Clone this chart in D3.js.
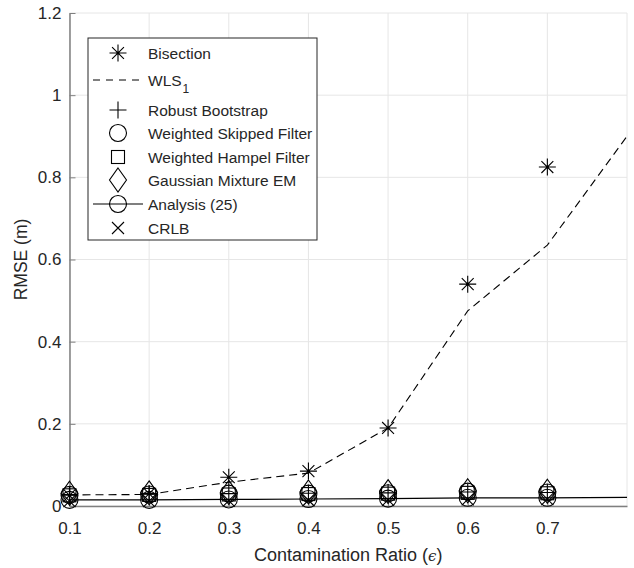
<!DOCTYPE html>
<html><head><meta charset="utf-8">
<script src="https://cdn.jsdelivr.net/npm/d3@7/dist/d3.min.js"></script>
<style>body{margin:0;background:#fff}svg{display:block}text{font-family:"Liberation Sans",Arial,sans-serif;fill:#262626}</style>
</head><body><svg id="c" width="634" height="568"></svg>
<script>
const ratios = [0.1,0.2,0.3,0.4,0.5,0.6,0.7];
const wlsX = [0.1,0.2,0.3,0.4,0.5,0.6,0.7,0.8];
const wls = [0.027,0.028,0.058,0.08,0.19,0.475,0.635,0.9];
const bisection = [0.026,0.030,0.070,0.085,0.190,0.540,0.825];
const robustBootstrap = [0.028,0.029,0.030,0.031,0.032,0.034,0.033];
const weightedSkipped = [0.027,0.028,0.030,0.030,0.031,0.035,0.033];
const weightedHampel = [0.026,0.027,0.028,0.029,0.030,0.032,0.031];
const gaussianEM = [0.031,0.032,0.033,0.034,0.035,0.037,0.036];
const analysisX = [0.1,0.2,0.3,0.4,0.5,0.6,0.7,0.8];
const analysis = [0.015,0.015,0.016,0.017,0.018,0.020,0.020,0.021];
const crlb = [0.012,0.012,0.013,0.014,0.015,0.016,0.017];
const xTicks = [0.1,0.2,0.3,0.4,0.5,0.6,0.7];
const yTicks = [0,0.2,0.4,0.6,0.8,1,1.2];

const svg = d3.select("#c");
const L=69.5, R=627, T=13, B=506;
const x = d3.scaleLinear().domain([0.1,0.8]).range([L,R]);
const y = d3.scaleLinear().domain([0,1.2]).range([B,T]);

// grid
const g = svg.append("g");
g.selectAll(".gx").data(xTicks.concat([0.8])).join("line")
 .attr("x1",d=>x(d)).attr("x2",d=>x(d)).attr("y1",T).attr("y2",B)
 .attr("stroke","#e6e6e6").attr("stroke-width",1);
g.selectAll(".gy").data(yTicks).join("line")
 .attr("x1",L).attr("x2",R).attr("y1",d=>y(d)).attr("y2",d=>y(d))
 .attr("stroke","#e6e6e6").attr("stroke-width",1);

// axes
const ax = svg.append("g").attr("transform",`translate(0,${B})`)
 .call(d3.axisBottom(x).tickValues(xTicks).tickSizeInner(-6).tickSizeOuter(0).tickPadding(16).tickFormat(d3.format(".1f")));
const ay = svg.append("g").attr("transform",`translate(${L},0)`)
 .call(d3.axisLeft(y).tickValues(yTicks).tickSizeInner(-6).tickSizeOuter(0).tickPadding(8).tickFormat(d=>d===0?"0":(d===1?"1":d3.format(".1f")(d))));
[ax,ay].forEach(a=>{
  a.selectAll("path").attr("stroke","#7f7f7f").attr("stroke-width",1.5);
  a.selectAll("line").attr("stroke","#7f7f7f");
  a.selectAll("text").attr("font-size",17).attr("fill","#262626").style("font-family","'Liberation Sans',Arial,sans-serif");
});

// lines
const line = d3.line().x(d=>x(d[0])).y(d=>y(d[1]));
svg.append("path").datum(wlsX.map((v,i)=>[v,wls[i]])).attr("d",line)
 .attr("fill","none").attr("stroke","#000").attr("stroke-width",1.1).attr("stroke-dasharray","8,5");
svg.append("path").datum(analysisX.map((v,i)=>[v,analysis[i]])).attr("d",line)
 .attr("fill","none").attr("stroke","#000").attr("stroke-width",1.2);

// marker painters
function marker(sel, type, cx, cy){
  const s=8.5;
  const gg = sel.append("g").attr("transform",`translate(${cx},${cy})`)
    .attr("fill","none").attr("stroke","#000").attr("stroke-width",1.1);
  if(type==="star"){
    gg.append("path").attr("d",`M0,${-s}V${s}M${-s},0H${s}M${-s*0.7},${-s*0.7}L${s*0.7},${s*0.7}M${-s*0.7},${s*0.7}L${s*0.7},${-s*0.7}`);
    gg.append("circle").attr("r",1.3).attr("fill","#000").attr("stroke","none");
  } else if(type==="plus"){
    gg.append("path").attr("d",`M0,${-s}V${s}M${-s},0H${s}`);
  } else if(type==="circle"){
    gg.append("circle").attr("r",s);
  } else if(type==="square"){
    gg.append("rect").attr("x",-6.5).attr("y",-6.5).attr("width",13).attr("height",13);
  } else if(type==="diamond"){
    gg.append("path").attr("d",`M0,-12L8.5,0L0,12L-8.5,0Z`);
  } else if(type==="x"){
    gg.append("path").attr("d",`M-6,-6L6,6M-6,6L6,-6`);
  }
}
const series = [
  ["star", bisection],["plus", robustBootstrap],["circle", weightedSkipped],
  ["square", weightedHampel],["diamond", gaussianEM],["circle", analysis.slice(0,7)],["x", crlb]
];
const mg = svg.append("g");
series.forEach(([t,vals])=>{
  ratios.forEach((r,i)=>marker(mg,t,x(r),y(vals[i])));
});

// legend
const lg = svg.append("g");
lg.append("rect").attr("x",88).attr("y",38).attr("width",229).attr("height",202)
  .attr("fill","#fff").attr("stroke","#262626").attr("stroke-width",1);
const rows = [
  {label:"Bisection", m:"star", y:53},
  {label:"WLS", sub:"1", dash:true, y:80},
  {label:"Robust Bootstrap", m:"plus", y:110},
  {label:"Weighted Skipped Filter", m:"circle", y:133},
  {label:"Weighted Hampel Filter", m:"square", y:157},
  {label:"Gaussian Mixture EM", m:"diamond", y:180},
  {label:"Analysis (25)", m:"circle", line:true, y:204},
  {label:"CRLB", m:"x", y:228}
];
rows.forEach(r=>{
  if(r.dash) lg.append("line").attr("x1",93).attr("x2",143).attr("y1",r.y).attr("y2",r.y)
    .attr("stroke","#000").attr("stroke-dasharray","7,6");
  if(r.line) lg.append("line").attr("x1",93).attr("x2",143).attr("y1",r.y).attr("y2",r.y)
    .attr("stroke","#000").attr("stroke-width",1.2);
  if(r.m) marker(lg,r.m,118,r.y);
  const t = lg.append("text").attr("x",148).attr("y",r.y+5.5).attr("font-size",15.5).text(r.label);
  if(r.sub) t.append("tspan").attr("dy",7).attr("dx",1).attr("font-size",12).text(r.sub);
});

// axis labels
const xl = svg.append("text").attr("x",(L+R)/2).attr("y",561).attr("text-anchor","middle").attr("font-size",18);
xl.append("tspan").text("Contamination Ratio (");
xl.append("tspan").attr("font-family","DejaVu Serif").attr("font-style","italic").attr("font-size",15).text("ϵ");
xl.append("tspan").text(")");
svg.append("text").attr("transform",`translate(27,${(T+B)/2}) rotate(-90)`).attr("text-anchor","middle").attr("font-size",17.5).text("RMSE (m)");
</script></body></html>
